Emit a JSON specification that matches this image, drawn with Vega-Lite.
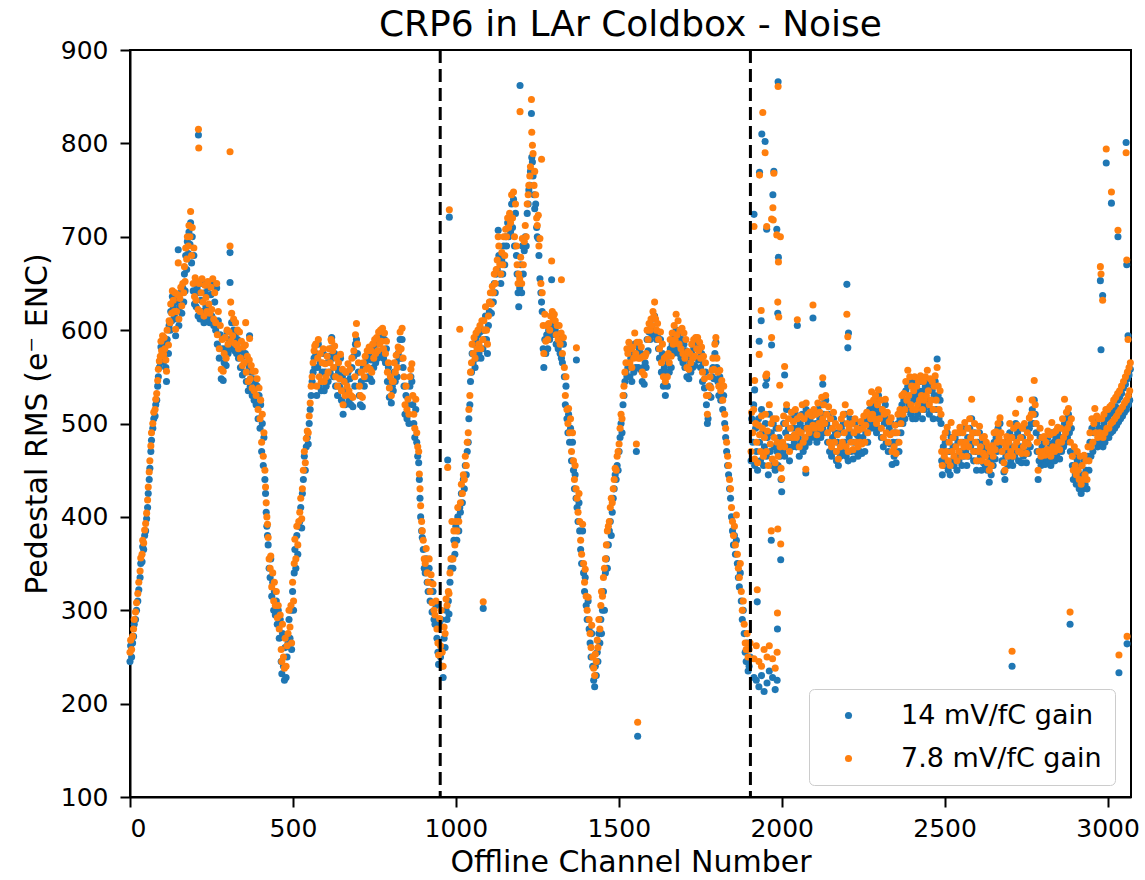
{
"$schema": "https://vega.github.io/schema/vega-lite/v6.json",
"width": 1001, "height": 747,
"autosize": "none",
"padding": {"left": 130, "top": 50, "right": 14, "bottom": 83},
"background": "white",
"config": {"font": "DejaVu Sans", "view": {"stroke": "black", "strokeWidth": 2},
 "axis": {"grid": false, "domainColor": "black", "domainWidth": 2, "tickColor": "black", "tickWidth": 2, "tickSize": 10, "labelColor": "black", "labelFontSize": 25, "titleFontSize": 30, "titleFontWeight": "normal", "titleColor": "black"}},
"title": {"text": "CRP6 in LAr Coldbox - Noise", "fontSize": 36, "fontWeight": "normal", "color": "black", "offset": -6},
"datasets": {
"lines": [{"x": 952}, {"x": 1904}],
"pts": [
{"c":0,"b":245,"o":255},{"c":2,"b":262,"o":268},{"c":5,"b":250,"o":258},{"c":8,"b":265,"o":272},{"c":11,"b":272,"o":280},{"c":13,"b":285,"o":290},{"c":17,"b":290,"o":298},{"c":20,"b":300,"o":308},{"c":24,"b":310,"o":318},{"c":27,"b":322,"o":330},{"c":31,"b":335,"o":342},{"c":33,"b":350,"o":356},{"c":37,"b":352,"o":360},{"c":39,"b":368,"o":375},{"c":42,"b":365,"o":372},{"c":45,"b":380,"o":386},{"c":48,"b":385,"o":393},{"c":51,"b":398,"o":404},{"c":54,"b":410,"o":418},{"c":56,"b":425,"o":432},{"c":59,"b":440,"o":448},{"c":61,"b":452,"o":460},{"c":64,"b":470,"o":476},{"c":66,"b":482,"o":490},{"c":70,"b":495,"o":500},{"c":73,"b":505,"o":512},{"c":77,"b":508,"o":515},{"c":79,"b":520,"o":526},{"c":82,"b":525,"o":532},{"c":85,"b":540,"o":546},{"c":87,"b":550,"o":558},{"c":90,"b":560,"o":567},{"c":93,"b":565,"o":572},{"c":95,"b":582,"o":588},{"c":97,"b":570,"o":578},{"c":100,"b":588,"o":594},{"c":103,"b":566,"o":574},{"c":105,"b":585,"o":592},{"c":107,"b":575,"o":580},{"c":110,"b":560,"o":568},{"c":112,"b":545,"o":556},{"c":114,"b":590,"o":600},{"c":118,"b":575,"o":584},{"c":120,"b":605,"o":610},{"c":123,"b":600,"o":608},{"c":125,"b":620,"o":628},{"c":128,"b":610,"o":618},{"c":130,"b":636,"o":642},{"c":133,"b":625,"o":632},{"c":136,"b":615,"o":620},{"c":138,"b":630,"o":640},{"c":140,"b":594,"o":601},{"c":143,"b":612,"o":620},{"c":146,"b":632,"o":638},{"c":148,"b":686,"o":672},{"c":150,"b":605,"o":612},{"c":153,"b":625,"o":634},{"c":156,"b":640,"o":646},{"c":159,"b":618,"o":626},{"c":162,"b":645,"o":650},{"c":165,"b":630,"o":640},{"c":167,"b":660,"o":668},{"c":169,"b":642,"o":652},{"c":171,"b":680,"o":688},{"c":174,"b":665,"o":676},{"c":176,"b":695,"o":700},{"c":179,"b":682,"o":690},{"c":181,"b":705,"o":712},{"c":184,"b":692,"o":700},{"c":186,"b":715,"o":727},{"c":189,"b":672,"o":680},{"c":191,"b":700,"o":710},{"c":194,"b":642,"o":650},{"c":196,"b":680,"o":688},{"c":198,"b":628,"o":636},{"c":200,"b":650,"o":656},{"c":203,"b":625,"o":632},{"c":206,"b":645,"o":652},{"c":209,"b":615,"o":622},{"c":210,"b":809,"o":815},{"c":211,"b":null,"o":795},{"c":212,"b":640,"o":650},{"c":215,"b":612,"o":620},{"c":218,"b":632,"o":640},{"c":221,"b":650,"o":655},{"c":224,"b":620,"o":630},{"c":227,"b":608,"o":615},{"c":230,"b":640,"o":648},{"c":233,"b":625,"o":635},{"c":236,"b":612,"o":620},{"c":239,"b":645,"o":652},{"c":242,"b":620,"o":628},{"c":245,"b":608,"o":618},{"c":248,"b":638,"o":646},{"c":251,"b":615,"o":622},{"c":254,"b":650,"o":655},{"c":257,"b":605,"o":612},{"c":260,"b":630,"o":640},{"c":263,"b":600,"o":608},{"c":266,"b":645,"o":650},{"c":268,"b":585,"o":595},{"c":271,"b":610,"o":620},{"c":274,"b":570,"o":580},{"c":277,"b":595,"o":605},{"c":280,"b":548,"o":558},{"c":283,"b":580,"o":590},{"c":286,"b":546,"o":556},{"c":289,"b":565,"o":575},{"c":292,"b":580,"o":592},{"c":295,"b":562,"o":570},{"c":298,"b":598,"o":600},{"c":301,"b":575,"o":585},{"c":304,"b":590,"o":598},{"c":307,"b":683,"o":690},{"c":307,"b":651,"o":791},{"c":309,"b":null,"o":630},{"c":310,"b":580,"o":588},{"c":312,"b":608,"o":618},{"c":315,"b":585,"o":594},{"c":318,"b":600,"o":612},{"c":321,"b":578,"o":586},{"c":324,"b":596,"o":608},{"c":327,"b":575,"o":584},{"c":330,"b":590,"o":600},{"c":333,"b":570,"o":580},{"c":336,"b":588,"o":598},{"c":339,"b":560,"o":570},{"c":342,"b":578,"o":588},{"c":345,"b":552,"o":562},{"c":348,"b":572,"o":582},{"c":351,"b":555,"o":565},{"c":354,"b":575,"o":584},{"c":355,"b":null,"o":608},{"c":357,"b":545,"o":555},{"c":360,"b":565,"o":572},{"c":363,"b":535,"o":545},{"c":366,"b":560,"o":568},{"c":367,"b":594,"o":591},{"c":369,"b":540,"o":548},{"c":372,"b":555,"o":562},{"c":375,"b":530,"o":538},{"c":378,"b":548,"o":556},{"c":381,"b":525,"o":535},{"c":384,"b":545,"o":556},{"c":387,"b":520,"o":530},{"c":390,"b":540,"o":548},{"c":393,"b":505,"o":515},{"c":396,"b":530,"o":538},{"c":399,"b":495,"o":505},{"c":401,"b":520,"o":525},{"c":404,"b":470,"o":480},{"c":406,"b":500,"o":510},{"c":409,"b":455,"o":465},{"c":411,"b":485,"o":490},{"c":414,"b":440,"o":450},{"c":416,"b":425,"o":432},{"c":418,"b":405,"o":415},{"c":420,"b":390,"o":400},{"c":422,"b":380,"o":392},{"c":424,"b":370,"o":378},{"c":427,"b":345,"o":355},{"c":430,"b":335,"o":345},{"c":432,"b":355,"o":358},{"c":435,"b":315,"o":325},{"c":438,"b":330,"o":340},{"c":441,"b":300,"o":310},{"c":443,"b":320,"o":330},{"c":446,"b":295,"o":305},{"c":449,"b":310,"o":320},{"c":452,"b":285,"o":292},{"c":455,"b":300,"o":305},{"c":458,"b":270,"o":280},{"c":461,"b":290,"o":295},{"c":464,"b":245,"o":258},{"c":466,"b":232,"o":245},{"c":468,"b":275,"o":285},{"c":471,"b":240,"o":250},{"c":474,"b":225,"o":238},{"c":476,"b":260,"o":270},{"c":479,"b":228,"o":240},{"c":482,"b":250,"o":262},{"c":485,"b":265,"o":275},{"c":488,"b":290,"o":300},{"c":491,"b":270,"o":282},{"c":494,"b":300,"o":305},{"c":496,"b":258,"o":265},{"c":499,"b":320,"o":330},{"c":502,"b":300,"o":310},{"c":504,"b":340,"o":350},{"c":506,"b":365,"o":376},{"c":509,"b":345,"o":355},{"c":512,"b":380,"o":390},{"c":515,"b":360,"o":370},{"c":518,"b":390,"o":395},{"c":521,"b":395,"o":405},{"c":524,"b":410,"o":420},{"c":527,"b":388,"o":398},{"c":529,"b":425,"o":430},{"c":532,"b":440,"o":450},{"c":535,"b":465,"o":470},{"c":538,"b":450,"o":458},{"c":541,"b":475,"o":484},{"c":544,"b":485,"o":492},{"c":547,"b":478,"o":490},{"c":550,"b":500,"o":508},{"c":553,"b":515,"o":522},{"c":556,"b":530,"o":540},{"c":559,"b":545,"o":550},{"c":562,"b":555,"o":565},{"c":565,"b":570,"o":578},{"c":567,"b":560,"o":583},{"c":570,"b":575,"o":585},{"c":573,"b":530,"o":540},{"c":576,"b":560,"o":570},{"c":578,"b":585,"o":590},{"c":581,"b":540,"o":550},{"c":584,"b":565,"o":575},{"c":587,"b":535,"o":545},{"c":590,"b":555,"o":565},{"c":593,"b":575,"o":580},{"c":596,"b":535,"o":545},{"c":599,"b":555,"o":564},{"c":602,"b":540,"o":550},{"c":605,"b":565,"o":572},{"c":608,"b":545,"o":555},{"c":611,"b":572,"o":580},{"c":614,"b":555,"o":565},{"c":617,"b":580,"o":590},{"c":619,"b":592,"o":588},{"c":622,"b":570,"o":578},{"c":625,"b":550,"o":560},{"c":628,"b":575,"o":583},{"c":631,"b":540,"o":550},{"c":634,"b":560,"o":570},{"c":637,"b":530,"o":540},{"c":640,"b":555,"o":565},{"c":643,"b":540,"o":548},{"c":646,"b":570,"o":574},{"c":649,"b":525,"o":535},{"c":652,"b":550,"o":558},{"c":654,"b":510,"o":520},{"c":657,"b":535,"o":545},{"c":660,"b":520,"o":530},{"c":663,"b":545,"o":555},{"c":666,"b":530,"o":540},{"c":669,"b":555,"o":564},{"c":672,"b":525,"o":535},{"c":675,"b":548,"o":558},{"c":678,"b":520,"o":530},{"c":681,"b":560,"o":570},{"c":684,"b":518,"o":528},{"c":687,"b":572,"o":578},{"c":690,"b":540,"o":550},{"c":692,"b":585,"o":595},{"c":695,"b":590,"o":607},{"c":698,"b":575,"o":585},{"c":701,"b":555,"o":565},{"c":704,"b":530,"o":540},{"c":707,"b":520,"o":530},{"c":710,"b":545,"o":555},{"c":713,"b":518,"o":528},{"c":716,"b":560,"o":565},{"c":719,"b":540,"o":550},{"c":722,"b":565,"o":572},{"c":725,"b":548,"o":558},{"c":728,"b":570,"o":578},{"c":731,"b":550,"o":560},{"c":734,"b":575,"o":582},{"c":737,"b":548,"o":558},{"c":740,"b":568,"o":578},{"c":742,"b":545,"o":555},{"c":745,"b":580,"o":585},{"c":748,"b":560,"o":570},{"c":751,"b":585,"o":590},{"c":754,"b":565,"o":575},{"c":757,"b":585,"o":592},{"c":760,"b":570,"o":578},{"c":763,"b":590,"o":598},{"c":766,"b":575,"o":585},{"c":769,"b":595,"o":600},{"c":772,"b":578,"o":588},{"c":775,"b":595,"o":602},{"c":778,"b":570,"o":580},{"c":781,"b":590,"o":597},{"c":784,"b":565,"o":575},{"c":787,"b":580,"o":588},{"c":790,"b":545,"o":555},{"c":793,"b":560,"o":565},{"c":796,"b":528,"o":538},{"c":799,"b":545,"o":550},{"c":802,"b":522,"o":530},{"c":805,"b":540,"o":545},{"c":808,"b":535,"o":545},{"c":811,"b":555,"o":565},{"c":814,"b":545,"o":555},{"c":817,"b":565,"o":573},{"c":820,"b":550,"o":560},{"c":823,"b":575,"o":582},{"c":826,"b":570,"o":578},{"c":829,"b":590,"o":598},{"c":832,"b":570,"o":580},{"c":835,"b":590,"o":602},{"c":838,"b":560,"o":570},{"c":841,"b":540,"o":550},{"c":844,"b":510,"o":520},{"c":847,"b":530,"o":540},{"c":850,"b":505,"o":515},{"c":853,"b":520,"o":526},{"c":856,"b":500,"o":510},{"c":859,"b":540,"o":550},{"c":862,"b":550,"o":558},{"c":865,"b":545,"o":564},{"c":868,"b":520,"o":530},{"c":871,"b":500,"o":510},{"c":874,"b":485,"o":495},{"c":877,"b":515,"o":526},{"c":880,"b":480,"o":490},{"c":883,"b":465,"o":475},{"c":886,"b":458,"o":470},{"c":888,"b":440,"o":446},{"c":890,"b":420,"o":430},{"c":892,"b":400,"o":412},{"c":895,"b":385,"o":395},{"c":897,"b":378,"o":385},{"c":900,"b":365,"o":375},{"c":903,"b":345,"o":355},{"c":906,"b":340,"o":350},{"c":909,"b":355,"o":366},{"c":912,"b":330,"o":340},{"c":915,"b":320,"o":330},{"c":918,"b":345,"o":355},{"c":921,"b":310,"o":320},{"c":924,"b":330,"o":338},{"c":927,"b":298,"o":308},{"c":930,"b":320,"o":328},{"c":933,"b":290,"o":300},{"c":936,"b":285,"o":295},{"c":939,"b":305,"o":310},{"c":942,"b":270,"o":280},{"c":945,"b":255,"o":265},{"c":947,"b":242,"o":252},{"c":950,"b":285,"o":291},
{"c":953,"b":250,"o":262},{"c":955,"b":290,"o":300},{"c":958,"b":240,"o":255},{"c":961,"b":228,"o":240},{"c":964,"b":270,"o":282},{"c":967,"b":260,"o":275},{"c":970,"b":300,"o":312},{"c":973,"b":290,"o":305},{"c":975,"b":461,"o":453},{"c":977,"b":310,"o":320},{"c":979,"b":296,"o":318},{"c":980,"b":721,"o":729},{"c":982,"b":330,"o":340},{"c":985,"b":345,"o":355},{"c":988,"b":355,"o":395},{"c":991,"b":345,"o":355},{"c":994,"b":375,"o":385},{"c":997,"b":360,"o":370},{"c":1000,"b":390,"o":395},{"c":1003,"b":375,"o":385},{"c":1006,"b":400,"o":410},{"c":1009,"b":385,"o":395},{"c":1012,"b":410,"o":601},{"c":1014,"b":405,"o":415},{"c":1017,"b":425,"o":435},{"c":1020,"b":415,"o":425},{"c":1023,"b":440,"o":445},{"c":1026,"b":430,"o":440},{"c":1029,"b":455,"o":465},{"c":1032,"b":445,"o":455},{"c":1035,"b":470,"o":480},{"c":1038,"b":480,"o":490},{"c":1040,"b":505,"o":515},{"c":1043,"b":520,"o":530},{"c":1045,"b":545,"o":555},{"c":1048,"b":555,"o":565},{"c":1050,"b":575,"o":585},{"c":1053,"b":565,"o":575},{"c":1056,"b":585,"o":592},{"c":1059,"b":560,"o":570},{"c":1062,"b":590,"o":597},{"c":1065,"b":570,"o":580},{"c":1068,"b":595,"o":600},{"c":1071,"b":575,"o":585},{"c":1074,"b":598,"o":605},{"c":1077,"b":570,"o":580},{"c":1080,"b":600,"o":610},{"c":1083,"b":580,"o":590},{"c":1084,"b":302,"o":309},{"c":1086,"b":600,"o":610},{"c":1089,"b":590,"o":600},{"c":1091,"b":615,"o":625},{"c":1094,"b":590,"o":600},{"c":1097,"b":575,"o":585},{"c":1100,"b":605,"o":615},{"c":1103,"b":620,"o":630},{"c":1106,"b":630,"o":640},{"c":1109,"b":618,"o":628},{"c":1112,"b":640,"o":647},{"c":1115,"b":630,"o":640},{"c":1118,"b":650,"o":660},{"c":1121,"b":640,"o":650},{"c":1124,"b":660,"o":665},{"c":1127,"b":665,"o":675},{"c":1130,"b":707,"o":700},{"c":1132,"b":680,"o":690},{"c":1135,"b":660,"o":670},{"c":1138,"b":650,"o":660},{"c":1141,"b":675,"o":683},{"c":1144,"b":660,"o":670},{"c":1147,"b":690,"o":700},{"c":1150,"b":670,"o":680},{"c":1153,"b":700,"o":708},{"c":1156,"b":690,"o":700},{"c":1159,"b":715,"o":720},{"c":1162,"b":700,"o":710},{"c":1165,"b":720,"o":725},{"c":1168,"b":705,"o":715},{"c":1171,"b":735,"o":745},{"c":1174,"b":710,"o":720},{"c":1177,"b":740,"o":748},{"c":1180,"b":690,"o":700},{"c":1183,"b":725,"o":735},{"c":1186,"b":680,"o":690},{"c":1188,"b":660,"o":670},{"c":1191,"b":640,"o":650},{"c":1193,"b":625,"o":660},{"c":1196,"b":645,"o":655},{"c":1197,"b":862,"o":834},{"c":1199,"b":670,"o":678},{"c":1202,"b":640,"o":650},{"c":1204,"b":690,"o":698},{"c":1207,"b":660,"o":670},{"c":1210,"b":685,"o":695},{"c":1213,"b":700,"o":712},{"c":1216,"b":690,"o":700},{"c":1219,"b":725,"o":735},{"c":1222,"b":735,"o":745},{"c":1224,"b":750,"o":755},{"c":1227,"b":755,"o":765},{"c":1229,"b":770,"o":775},{"c":1232,"b":832,"o":847},{"c":1233,"b":785,"o":812},{"c":1235,"b":780,"o":798},{"c":1237,"b":765,"o":789},{"c":1240,"b":745,"o":755},{"c":1242,"b":730,"o":770},{"c":1245,"b":735,"o":745},{"c":1248,"b":710,"o":720},{"c":1250,"b":700,"o":712},{"c":1253,"b":698,"o":723},{"c":1255,"b":680,"o":690},{"c":1258,"b":655,"o":698},{"c":1261,"b":640,"o":650},{"c":1263,"b":630,"o":783},{"c":1265,"b":620,"o":640},{"c":1268,"b":580,"o":605},{"c":1270,"b":560,"o":575},{"c":1273,"b":590,"o":617},{"c":1276,"b":575,"o":588},{"c":1279,"b":595,"o":605},{"c":1282,"b":580,"o":590},{"c":1285,"b":600,"o":607},{"c":1288,"b":590,"o":600},{"c":1291,"b":605,"o":615},{"c":1294,"b":654,"o":674},{"c":1296,"b":595,"o":620},{"c":1299,"b":605,"o":612},{"c":1302,"b":598,"o":617},{"c":1305,"b":600,"o":610},{"c":1308,"b":585,"o":595},{"c":1311,"b":595,"o":605},{"c":1314,"b":580,"o":590},{"c":1317,"b":595,"o":605},{"c":1320,"b":575,"o":585},{"c":1323,"b":590,"o":597},{"c":1324,"b":570,"o":654},{"c":1327,"b":565,"o":575},{"c":1330,"b":585,"o":592},{"c":1333,"b":550,"o":560},{"c":1336,"b":520,"o":530},{"c":1338,"b":540,"o":550},{"c":1341,"b":505,"o":515},{"c":1344,"b":490,"o":500},{"c":1346,"b":510,"o":516},{"c":1349,"b":480,"o":490},{"c":1352,"b":495,"o":505},{"c":1355,"b":460,"o":470},{"c":1358,"b":480,"o":490},{"c":1361,"b":450,"o":460},{"c":1364,"b":430,"o":440},{"c":1366,"b":445,"o":455},{"c":1369,"b":420,"o":430},{"c":1370,"b":568,"o":581},{"c":1372,"b":410,"o":420},{"c":1375,"b":395,"o":405},{"c":1378,"b":415,"o":425},{"c":1380,"b":385,"o":395},{"c":1383,"b":365,"o":375},{"c":1386,"b":350,"o":360},{"c":1389,"b":385,"o":392},{"c":1392,"b":340,"o":350},{"c":1395,"b":320,"o":330},{"c":1397,"b":335,"o":344},{"c":1400,"b":305,"o":315},{"c":1403,"b":290,"o":300},{"c":1406,"b":310,"o":314},{"c":1409,"b":280,"o":290},{"c":1412,"b":265,"o":275},{"c":1415,"b":250,"o":260},{"c":1417,"b":275,"o":284},{"c":1420,"b":240,"o":250},{"c":1423,"b":225,"o":238},{"c":1426,"b":218,"o":230},{"c":1428,"b":240,"o":253},{"c":1431,"b":230,"o":245},{"c":1434,"b":255,"o":268},{"c":1436,"b":245,"o":260},{"c":1439,"b":275,"o":290},{"c":1442,"b":265,"o":280},{"c":1445,"b":290,"o":305},{"c":1447,"b":275,"o":320},{"c":1450,"b":300,"o":315},{"c":1453,"b":320,"o":335},{"c":1456,"b":300,"o":345},{"c":1459,"b":340,"o":355},{"c":1462,"b":355,"o":370},{"c":1465,"b":345,"o":385},{"c":1468,"b":370,"o":390},{"c":1471,"b":385,"o":395},{"c":1474,"b":395,"o":410},{"c":1477,"b":380,"o":420},{"c":1480,"b":405,"o":415},{"c":1483,"b":420,"o":430},{"c":1486,"b":430,"o":440},{"c":1489,"b":445,"o":452},{"c":1492,"b":440,"o":450},{"c":1495,"b":455,"o":465},{"c":1498,"b":450,"o":470},{"c":1501,"b":470,"o":478},{"c":1504,"b":485,"o":495},{"c":1507,"b":500,"o":510},{"c":1510,"b":490,"o":505},{"c":1513,"b":520,"o":530},{"c":1516,"b":530,"o":540},{"c":1519,"b":545,"o":555},{"c":1522,"b":555,"o":565},{"c":1525,"b":550,"o":580},{"c":1528,"b":560,"o":575},{"c":1531,"b":580,"o":587},{"c":1534,"b":550,"o":565},{"c":1537,"b":570,"o":580},{"c":1540,"b":545,"o":560},{"c":1543,"b":575,"o":582},{"c":1546,"b":555,"o":570},{"c":1549,"b":585,"o":597},{"c":1552,"b":560,"o":575},{"c":1554,"b":470,"o":478},{"c":1556,"b":575,"o":587},{"c":1558,"b":165,"o":180},{"c":1560,"b":560,"o":570},{"c":1563,"b":580,"o":587},{"c":1566,"b":558,"o":570},{"c":1569,"b":575,"o":582},{"c":1572,"b":545,"o":555},{"c":1575,"b":560,"o":572},{"c":1578,"b":542,"o":552},{"c":1581,"b":565,"o":572},{"c":1584,"b":560,"o":575},{"c":1587,"b":590,"o":600},{"c":1590,"b":578,"o":590},{"c":1593,"b":598,"o":607},{"c":1596,"b":590,"o":600},{"c":1599,"b":605,"o":612},{"c":1602,"b":595,"o":605},{"c":1605,"b":612,"o":620},{"c":1608,"b":600,"o":615},{"c":1610,"b":615,"o":630},{"c":1613,"b":600,"o":612},{"c":1616,"b":590,"o":600},{"c":1619,"b":595,"o":607},{"c":1622,"b":580,"o":590},{"c":1625,"b":570,"o":580},{"c":1628,"b":590,"o":598},{"c":1631,"b":555,"o":565},{"c":1634,"b":575,"o":585},{"c":1637,"b":540,"o":550},{"c":1640,"b":560,"o":570},{"c":1643,"b":530,"o":545},{"c":1646,"b":555,"o":572},{"c":1649,"b":540,"o":550},{"c":1652,"b":565,"o":575},{"c":1655,"b":555,"o":565},{"c":1658,"b":580,"o":590},{"c":1661,"b":560,"o":572},{"c":1664,"b":585,"o":597},{"c":1667,"b":575,"o":585},{"c":1670,"b":595,"o":605},{"c":1673,"b":580,"o":590},{"c":1676,"b":600,"o":617},{"c":1679,"b":585,"o":595},{"c":1682,"b":595,"o":610},{"c":1685,"b":575,"o":585},{"c":1688,"b":590,"o":600},{"c":1691,"b":570,"o":580},{"c":1694,"b":590,"o":602},{"c":1697,"b":565,"o":575},{"c":1700,"b":585,"o":597},{"c":1703,"b":560,"o":570},{"c":1706,"b":578,"o":590},{"c":1709,"b":550,"o":560},{"c":1712,"b":570,"o":577},{"c":1715,"b":548,"o":558},{"c":1718,"b":565,"o":575},{"c":1721,"b":555,"o":565},{"c":1724,"b":575,"o":585},{"c":1727,"b":560,"o":570},{"c":1730,"b":580,"o":590},{"c":1733,"b":562,"o":572},{"c":1736,"b":582,"o":592},{"c":1739,"b":570,"o":580},{"c":1742,"b":585,"o":592},{"c":1745,"b":568,"o":578},{"c":1748,"b":580,"o":587},{"c":1751,"b":560,"o":570},{"c":1754,"b":575,"o":582},{"c":1757,"b":545,"o":555},{"c":1760,"b":565,"o":572},{"c":1763,"b":538,"o":548},{"c":1766,"b":555,"o":565},{"c":1769,"b":520,"o":530},{"c":1772,"b":500,"o":510},{"c":1774,"b":505,"o":530},{"c":1777,"b":530,"o":540},{"c":1780,"b":540,"o":550},{"c":1783,"b":528,"o":538},{"c":1786,"b":550,"o":557},{"c":1789,"b":560,"o":570},{"c":1792,"b":548,"o":558},{"c":1795,"b":575,"o":585},{"c":1798,"b":587,"o":592},{"c":1801,"b":560,"o":570},{"c":1804,"b":545,"o":555},{"c":1807,"b":530,"o":540},{"c":1810,"b":550,"o":557},{"c":1813,"b":525,"o":535},{"c":1816,"b":540,"o":546},{"c":1819,"b":515,"o":525},{"c":1822,"b":530,"o":540},{"c":1825,"b":500,"o":510},{"c":1828,"b":485,"o":495},{"c":1831,"b":470,"o":480},{"c":1834,"b":455,"o":465},{"c":1837,"b":445,"o":455},{"c":1840,"b":430,"o":440},{"c":1843,"b":420,"o":430},{"c":1846,"b":400,"o":410},{"c":1849,"b":385,"o":395},{"c":1852,"b":370,"o":380},{"c":1855,"b":380,"o":390},{"c":1858,"b":360,"o":370},{"c":1861,"b":375,"o":402},{"c":1864,"b":350,"o":360},{"c":1867,"b":335,"o":345},{"c":1870,"b":325,"o":335},{"c":1873,"b":340,"o":350},{"c":1876,"b":310,"o":320},{"c":1879,"b":290,"o":300},{"c":1882,"b":300,"o":310},{"c":1885,"b":275,"o":285},{"c":1888,"b":255,"o":265},{"c":1891,"b":245,"o":258},{"c":1894,"b":265,"o":275},{"c":1897,"b":235,"o":250},{"c":1900,"b":240,"o":258},{"c":1903,"b":250,"o":265},
{"c":1915,"b":724,"o":711},{"c":1932,"b":769,"o":766},{"c":1939,"b":810,"o":null},{"c":1942,"b":null,"o":833},{"c":1949,"b":802,"o":790},{"c":1954,"b":708,"o":711},{"c":1969,"b":null,"o":719},{"c":1973,"b":745,"o":731},{"c":1974,"b":null,"o":718},{"c":1976,"b":770,"o":768},{"c":1989,"b":866,"o":861},{"c":1985,"b":708,"o":702},{"c":1990,"b":678,"o":673},{"c":1996,"b":null,"o":700},{"c":1937,"b":610,"o":621},{"c":1988,"b":618,"o":630},{"c":1991,"b":null,"o":614},{"c":2048,"b":605,"o":611},{"c":2096,"b":613,"o":627},{"c":1931,"b":588,"o":574},{"c":1969,"b":584,"o":592},{"c":1954,"b":548,"o":553},{"c":2009,"b":552,"o":561},{"c":2126,"b":542,"o":549},{"c":2200,"b":649,"o":617},{"c":2203,"b":581,"o":593},{"c":2205,"b":597,"o":null},{"c":1917,"b":536,"o":546},{"c":1951,"b":541,"o":551},{"c":1994,"b":null,"o":541},
{"c":1925,"b":309,"o":322},{"c":1968,"b":375,"o":385},{"c":1988,"b":null,"o":387},{"c":1997,"b":354,"o":371},{"c":1987,"b":280,"o":297},{"c":1915,"b":228,"o":248},{"c":1922,"b":225,"o":262},{"c":1930,"b":218,"o":245},{"c":1938,"b":230,"o":240},{"c":1946,"b":213,"o":258},{"c":1955,"b":222,"o":250},{"c":1962,"b":235,"o":262},{"c":1972,"b":228,"o":248},{"c":1980,"b":215,"o":238},{"c":1986,"b":225,"o":255},
{"c":1906,"b":460,"o":470},{"c":1908,"b":505,"o":512},{"c":1911,"b":480,"o":490},{"c":1914,"b":520,"o":515},{"c":1917,"b":455,"o":462},{"c":1920,"b":495,"o":500},{"c":1923,"b":470,"o":480},{"c":1926,"b":450,"o":458},{"c":1929,"b":505,"o":498},{"c":1932,"b":480,"o":488},{"c":1935,"b":460,"o":470},{"c":1938,"b":515,"o":508},{"c":1941,"b":490,"o":495},{"c":1944,"b":455,"o":465},{"c":1947,"b":475,"o":485},{"c":1950,"b":500,"o":510},{"c":1953,"b":465,"o":470},{"c":1956,"b":485,"o":492},{"c":1959,"b":445,"o":455},{"c":1962,"b":510,"o":520},{"c":1965,"b":470,"o":478},{"c":1968,"b":490,"o":500},{"c":1971,"b":455,"o":462},{"c":1974,"b":500,"o":505},{"c":1977,"b":475,"o":485},{"c":1980,"b":450,"o":458},{"c":1983,"b":495,"o":505},{"c":1986,"b":470,"o":480},{"c":1989,"b":455,"o":465},{"c":1992,"b":485,"o":495},{"c":1995,"b":465,"o":475},{"c":1998,"b":440,"o":452},{"c":2000,"b":427,"o":441},{"c":2003,"b":470,"o":480},{"c":2006,"b":500,"o":508},{"c":2009,"b":465,"o":475},{"c":2012,"b":490,"o":500},{"c":2015,"b":515,"o":520},{"c":2018,"b":475,"o":485},{"c":2021,"b":495,"o":505},{"c":2024,"b":460,"o":470},{"c":2027,"b":485,"o":495},{"c":2030,"b":505,"o":512},{"c":2033,"b":475,"o":485},{"c":2036,"b":495,"o":502},{"c":2039,"b":480,"o":488},{"c":2042,"b":510,"o":515},{"c":2045,"b":475,"o":485},{"c":2048,"b":495,"o":505},{"c":2051,"b":485,"o":492},{"c":2054,"b":465,"o":475},{"c":2057,"b":500,"o":508},{"c":2060,"b":480,"o":490},{"c":2063,"b":510,"o":520},{"c":2066,"b":470,"o":480},{"c":2069,"b":495,"o":505},{"c":2072,"b":475,"o":485},{"c":2074,"b":447,"o":451},{"c":2075,"b":515,"o":522},{"c":2078,"b":485,"o":495},{"c":2081,"b":500,"o":510},{"c":2084,"b":480,"o":490},{"c":2087,"b":505,"o":512},{"c":2090,"b":485,"o":495},{"c":2093,"b":500,"o":508},{"c":2096,"b":490,"o":498},{"c":2099,"b":510,"o":515},{"c":2102,"b":485,"o":495},{"c":2105,"b":500,"o":510},{"c":2108,"b":480,"o":488},{"c":2111,"b":515,"o":522},{"c":2114,"b":490,"o":500},{"c":2117,"b":505,"o":512},{"c":2120,"b":485,"o":495},{"c":2123,"b":520,"o":528},{"c":2126,"b":495,"o":505},{"c":2129,"b":510,"o":520},{"c":2132,"b":490,"o":500},{"c":2135,"b":525,"o":530},{"c":2138,"b":500,"o":510},{"c":2141,"b":480,"o":490},{"c":2144,"b":510,"o":518},{"c":2147,"b":470,"o":480},{"c":2150,"b":495,"o":505},{"c":2153,"b":465,"o":475},{"c":2156,"b":485,"o":495},{"c":2159,"b":505,"o":512},{"c":2162,"b":470,"o":480},{"c":2165,"b":490,"o":500},{"c":2168,"b":460,"o":470},{"c":2171,"b":480,"o":488},{"c":2174,"b":455,"o":462},{"c":2177,"b":490,"o":496},{"c":2180,"b":465,"o":475},{"c":2183,"b":495,"o":505},{"c":2186,"b":470,"o":480},{"c":2189,"b":500,"o":510},{"c":2192,"b":480,"o":490},{"c":2195,"b":510,"o":520},{"c":2198,"b":465,"o":475},{"c":2201,"b":490,"o":500},{"c":2204,"b":460,"o":470},{"c":2207,"b":485,"o":495},{"c":2210,"b":505,"o":512},{"c":2213,"b":470,"o":480},{"c":2216,"b":490,"o":500},{"c":2219,"b":462,"o":472},{"c":2222,"b":480,"o":490},{"c":2225,"b":500,"o":505},{"c":2228,"b":470,"o":480},{"c":2231,"b":488,"o":495},{"c":2234,"b":465,"o":475},{"c":2237,"b":485,"o":493},{"c":2240,"b":470,"o":480},{"c":2243,"b":495,"o":502},{"c":2246,"b":468,"o":478},{"c":2249,"b":485,"o":495},{"c":2252,"b":500,"o":508},{"c":2255,"b":470,"o":480},{"c":2258,"b":490,"o":498},{"c":2261,"b":505,"o":512},{"c":2264,"b":480,"o":490},{"c":2267,"b":500,"o":510},{"c":2270,"b":515,"o":522},{"c":2273,"b":495,"o":505},{"c":2276,"b":520,"o":534},{"c":2279,"b":500,"o":510},{"c":2282,"b":515,"o":525},{"c":2285,"b":495,"o":505},{"c":2288,"b":525,"o":530},{"c":2291,"b":490,"o":500},{"c":2294,"b":510,"o":520},{"c":2297,"b":530,"o":536},{"c":2300,"b":495,"o":505},{"c":2303,"b":515,"o":525},{"c":2306,"b":485,"o":495},{"c":2309,"b":505,"o":515},{"c":2312,"b":475,"o":485},{"c":2315,"b":500,"o":510},{"c":2318,"b":520,"o":526},{"c":2321,"b":480,"o":490},{"c":2324,"b":505,"o":512},{"c":2327,"b":470,"o":480},{"c":2330,"b":495,"o":502},{"c":2333,"b":478,"o":488},{"c":2336,"b":500,"o":506},{"c":2339,"b":456,"o":470},{"c":2342,"b":480,"o":490},{"c":2345,"b":465,"o":475},{"c":2348,"b":490,"o":498},{"c":2351,"b":458,"o":468},{"c":2354,"b":480,"o":490},{"c":2357,"b":500,"o":510},{"c":2360,"b":470,"o":480},{"c":2363,"b":505,"o":515},{"c":2366,"b":490,"o":500},{"c":2369,"b":520,"o":530},{"c":2372,"b":500,"o":510},{"c":2375,"b":525,"o":532},{"c":2378,"b":505,"o":515},{"c":2381,"b":535,"o":545},{"c":2384,"b":515,"o":525},{"c":2387,"b":540,"o":557},{"c":2390,"b":520,"o":530},{"c":2393,"b":545,"o":550},{"c":2396,"b":510,"o":520},{"c":2399,"b":530,"o":540},{"c":2402,"b":505,"o":515},{"c":2405,"b":525,"o":535},{"c":2408,"b":545,"o":550},{"c":2411,"b":505,"o":515},{"c":2414,"b":530,"o":540},{"c":2417,"b":510,"o":520},{"c":2420,"b":535,"o":545},{"c":2423,"b":515,"o":525},{"c":2426,"b":545,"o":551},{"c":2429,"b":520,"o":530},{"c":2432,"b":505,"o":515},{"c":2435,"b":535,"o":545},{"c":2438,"b":515,"o":525},{"c":2441,"b":540,"o":550},{"c":2444,"b":520,"o":530},{"c":2447,"b":545,"o":557},{"c":2450,"b":525,"o":535},{"c":2453,"b":510,"o":520},{"c":2456,"b":540,"o":548},{"c":2459,"b":515,"o":525},{"c":2462,"b":535,"o":545},{"c":2465,"b":505,"o":515},{"c":2468,"b":530,"o":540},{"c":2471,"b":545,"o":551},{"c":2474,"b":515,"o":525},{"c":2477,"b":569,"o":560},{"c":2480,"b":530,"o":540},{"c":2483,"b":505,"o":515},{"c":2486,"b":525,"o":535},{"c":2489,"b":500,"o":510},{"c":2491,"b":460,"o":470},{"c":2493,"b":445,"o":455},{"c":2496,"b":475,"o":485},{"c":2499,"b":455,"o":465},{"c":2502,"b":480,"o":490},{"c":2505,"b":460,"o":470},{"c":2508,"b":490,"o":496},{"c":2511,"b":450,"o":460},{"c":2514,"b":470,"o":480},{"c":2517,"b":445,"o":455},{"c":2520,"b":485,"o":501},{"c":2523,"b":460,"o":470},{"c":2526,"b":475,"o":485},{"c":2529,"b":455,"o":465},{"c":2532,"b":485,"o":490},{"c":2535,"b":465,"o":475},{"c":2538,"b":450,"o":460},{"c":2541,"b":480,"o":490},{"c":2544,"b":460,"o":470},{"c":2547,"b":490,"o":496},{"c":2550,"b":470,"o":480},{"c":2553,"b":455,"o":465},{"c":2556,"b":480,"o":490},{"c":2559,"b":465,"o":475},{"c":2562,"b":495,"o":501},{"c":2565,"b":470,"o":480},{"c":2568,"b":455,"o":465},{"c":2571,"b":485,"o":495},{"c":2574,"b":465,"o":475},{"c":2577,"b":495,"o":505},{"c":2580,"b":475,"o":485},{"c":2583,"b":505,"o":526},{"c":2586,"b":480,"o":490},{"c":2589,"b":460,"o":470},{"c":2592,"b":490,"o":500},{"c":2595,"b":470,"o":480},{"c":2598,"b":450,"o":460},{"c":2601,"b":480,"o":490},{"c":2604,"b":460,"o":470},{"c":2607,"b":490,"o":497},{"c":2610,"b":465,"o":475},{"c":2613,"b":450,"o":460},{"c":2616,"b":475,"o":485},{"c":2619,"b":458,"o":468},{"c":2622,"b":480,"o":486},{"c":2625,"b":455,"o":465},{"c":2628,"b":470,"o":480},{"c":2631,"b":450,"o":458},{"c":2634,"b":465,"o":475},{"c":2637,"b":437,"o":450},{"c":2640,"b":460,"o":470},{"c":2643,"b":445,"o":455},{"c":2646,"b":470,"o":476},{"c":2649,"b":455,"o":465},{"c":2652,"b":480,"o":490},{"c":2655,"b":462,"o":472},{"c":2658,"b":485,"o":491},{"c":2661,"b":470,"o":480},{"c":2664,"b":495,"o":500},{"c":2667,"b":475,"o":485},{"c":2670,"b":500,"o":506},{"c":2673,"b":480,"o":490},{"c":2676,"b":460,"o":470},{"c":2679,"b":470,"o":480},{"c":2682,"b":448,"o":458},{"c":2685,"b":440,"o":450},{"c":2688,"b":465,"o":475},{"c":2691,"b":480,"o":486},{"c":2694,"b":455,"o":465},{"c":2697,"b":470,"o":480},{"c":2700,"b":490,"o":500},{"c":2703,"b":460,"o":470},{"c":2706,"b":475,"o":485},{"c":2707,"b":240,"o":256},{"c":2709,"b":455,"o":465},{"c":2712,"b":485,"o":495},{"c":2715,"b":465,"o":475},{"c":2718,"b":500,"o":511},{"c":2721,"b":470,"o":480},{"c":2724,"b":490,"o":498},{"c":2727,"b":460,"o":470},{"c":2730,"b":495,"o":526},{"c":2733,"b":475,"o":485},{"c":2736,"b":458,"o":468},{"c":2739,"b":485,"o":495},{"c":2742,"b":465,"o":475},{"c":2745,"b":495,"o":500},{"c":2748,"b":470,"o":480},{"c":2751,"b":458,"o":468},{"c":2754,"b":480,"o":490},{"c":2757,"b":468,"o":478},{"c":2760,"b":495,"o":506},{"c":2763,"b":475,"o":485},{"c":2766,"b":500,"o":510},{"c":2769,"b":515,"o":525},{"c":2772,"b":500,"o":510},{"c":2775,"b":525,"o":546},{"c":2778,"b":510,"o":520},{"c":2781,"b":490,"o":500},{"c":2784,"b":470,"o":480},{"c":2787,"b":440,"o":450},{"c":2790,"b":460,"o":470},{"c":2793,"b":485,"o":495},{"c":2796,"b":455,"o":465},{"c":2799,"b":475,"o":485},{"c":2802,"b":460,"o":470},{"c":2805,"b":480,"o":486},{"c":2808,"b":456,"o":466},{"c":2811,"b":470,"o":480},{"c":2814,"b":462,"o":472},{"c":2817,"b":485,"o":492},{"c":2820,"b":460,"o":470},{"c":2823,"b":478,"o":488},{"c":2826,"b":455,"o":465},{"c":2829,"b":490,"o":501},{"c":2832,"b":465,"o":475},{"c":2835,"b":480,"o":490},{"c":2838,"b":460,"o":470},{"c":2841,"b":485,"o":492},{"c":2844,"b":465,"o":475},{"c":2847,"b":490,"o":496},{"c":2850,"b":470,"o":480},{"c":2853,"b":462,"o":472},{"c":2856,"b":485,"o":495},{"c":2859,"b":470,"o":480},{"c":2862,"b":495,"o":505},{"c":2865,"b":475,"o":485},{"c":2868,"b":500,"o":526},{"c":2871,"b":480,"o":490},{"c":2874,"b":505,"o":512},{"c":2877,"b":485,"o":495},{"c":2880,"b":510,"o":516},{"c":2883,"b":490,"o":500},{"c":2885,"b":285,"o":298},{"c":2886,"b":470,"o":480},{"c":2889,"b":495,"o":505},{"c":2892,"b":455,"o":465},{"c":2895,"b":440,"o":450},{"c":2898,"b":465,"o":475},{"c":2901,"b":445,"o":455},{"c":2904,"b":435,"o":445},{"c":2907,"b":460,"o":470},{"c":2910,"b":440,"o":450},{"c":2913,"b":430,"o":440},{"c":2916,"b":455,"o":465},{"c":2919,"b":425,"o":435},{"c":2922,"b":445,"o":455},{"c":2925,"b":430,"o":440},{"c":2928,"b":460,"o":466},{"c":2931,"b":435,"o":445},{"c":2934,"b":450,"o":460},{"c":2937,"b":430,"o":440},{"c":2940,"b":465,"o":475},{"c":2943,"b":450,"o":460},{"c":2946,"b":480,"o":490},{"c":2949,"b":465,"o":475},{"c":2952,"b":495,"o":505},{"c":2955,"b":470,"o":480},{"c":2958,"b":490,"o":500},{"c":2961,"b":505,"o":516},{"c":2964,"b":480,"o":490},{"c":2967,"b":500,"o":508},{"c":2970,"b":475,"o":485},{"c":2973,"b":495,"o":505},{"c":2976,"b":480,"o":490},{"c":2978,"b":653,"o":668},{"c":2980,"b":579,"o":660},{"c":2982,"b":495,"o":505},{"c":2985,"b":637,"o":632},{"c":2986,"b":475,"o":485},{"c":2989,"b":500,"o":510},{"c":2992,"b":480,"o":490},{"c":2995,"b":505,"o":515},{"c":2996,"b":779,"o":794},{"c":2998,"b":485,"o":495},{"c":3001,"b":505,"o":515},{"c":3004,"b":485,"o":495},{"c":3007,"b":510,"o":518},{"c":3010,"b":490,"o":500},{"c":3012,"b":736,"o":748},{"c":3013,"b":512,"o":520},{"c":3016,"b":492,"o":502},{"c":3019,"b":515,"o":525},{"c":3022,"b":495,"o":505},{"c":3025,"b":518,"o":528},{"c":3028,"b":498,"o":508},{"c":3031,"b":525,"o":532},{"c":3032,"b":700,"o":707},{"c":3034,"b":502,"o":512},{"c":3035,"b":233,"o":252},{"c":3037,"b":528,"o":535},{"c":3040,"b":505,"o":515},{"c":3043,"b":532,"o":540},{"c":3046,"b":508,"o":518},{"c":3049,"b":538,"o":545},{"c":3052,"b":512,"o":522},{"c":3055,"b":542,"o":550},{"c":3057,"b":801,"o":790},{"c":3058,"b":515,"o":525},{"c":3059,"b":670,"o":675},{"c":3060,"b":264,"o":272},{"c":3061,"b":548,"o":555},{"c":3063,"b":594,"o":590},{"c":3064,"b":520,"o":530},{"c":3066,"b":552,"o":560},{"c":3068,"b":525,"o":535},{"c":3070,"b":558,"o":565}
]},
"layer": [
{"data": {"name": "pts"},
 "transform": [{"fold": ["b", "o"], "as": ["g", "v"]}, {"filter": "datum.v != null"}],
 "mark": {"type": "circle", "size": 50, "opacity": 1},
 "encoding": {
  "x": {"field": "c", "type": "quantitative", "scale": {"domain": [0, 3072], "nice": false, "zero": false},
        "axis": {"values": [0, 500, 1000, 1500, 2000, 2500, 3000], "format": "d", "title": "Offline Channel Number", "labelPadding": 9, "titlePadding": 6}},
  "y": {"field": "v", "type": "quantitative", "scale": {"domain": [100, 900], "nice": false, "zero": false},
        "axis": {"values": [100, 200, 300, 400, 500, 600, 700, 800, 900], "title": "Pedestal RMS (e⁻ ENC)", "labelPadding": 12, "titlePadding": 8}},
  "color": {"field": "g", "type": "nominal", "scale": {"domain": ["b", "o"], "range": ["#1f77b4", "#ff7f0e"]},
    "legend": {"title": null, "orient": "none", "legendX": 679, "legendY": 639, "labelExpr": "datum.label == 'b' ? '14 mV/fC gain' : '7.8 mV/fC gain'", "labelFontSize": 27, "labelLimit": 500, "labelColor": "black", "symbolType": "circle", "symbolSize": 50, "symbolStrokeWidth": 0, "symbolOffset": 13, "labelOffset": 39, "rowPadding": 15, "padding": 13, "cornerRadius": 5, "strokeColor": "#cccccc", "fillColor": "white"}},
  "order": {"field": "g", "type": "nominal", "sort": "ascending"}
 }},
{"data": {"name": "lines"},
 "mark": {"type": "rule", "strokeDash": [13, 6], "strokeWidth": 3, "color": "black"},
 "encoding": {"x": {"field": "x", "type": "quantitative"}}}
]
}
